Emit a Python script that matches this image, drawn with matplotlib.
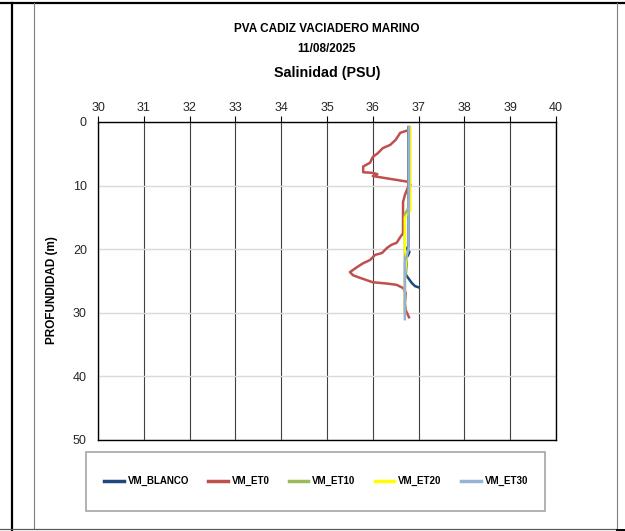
import matplotlib
matplotlib.use("Agg")
import matplotlib.pyplot as plt
from matplotlib.lines import Line2D
from matplotlib.patches import Rectangle

plt.rcParams['font.family'] = ['Liberation Sans', 'DejaVu Sans']

# salinity (PSU) vs depth (m)
blanco_depth = [0.8, 10.0, 19.5, 20.0, 20.4, 20.8, 21.3, 24.0, 24.6, 25.3, 25.8, 26.0]
blanco_sal = [36.78, 36.78, 36.78, 36.73, 36.80, 36.78, 36.74, 36.72, 36.78, 36.85, 36.92, 37.0]

et0_depth = [1.3, 1.7, 2.8, 3.6, 4.1, 4.9, 5.5, 6.4, 7.0, 7.9, 8.0, 8.2, 8.5, 9.4, 9.9,
             10.2, 11.5, 12.6, 17.5, 18.1, 19.0, 19.3, 19.8, 20.6, 20.9, 21.7, 22.2,
             22.8, 23.6, 24.1, 24.5, 25.2, 25.4, 25.6, 26.1, 26.9, 28.5, 29.6, 30.7]
et0_sal = [36.77, 36.6, 36.5, 36.38, 36.22, 36.11, 36.0, 35.94, 35.79, 35.79, 36.0, 36.1,
           36.0, 36.77, 36.83, 36.77, 36.7, 36.66, 36.66, 36.6, 36.52, 36.41, 36.31, 36.2,
           36.05, 35.94, 35.79, 35.66, 35.5, 35.57, 35.72, 36.0, 36.31, 36.52, 36.66,
           36.72, 36.7, 36.72, 36.79]

et10_depth = [0.8, 5.0, 10.0, 13.5, 14.5, 16.0, 20.0, 25.0, 30.0]
et10_sal = [36.79, 36.79, 36.79, 36.78, 36.70, 36.70, 36.70, 36.70, 36.70]

et20_depth = [0.8, 5.0, 10.0, 14.0, 15.0, 20.0, 20.8, 21.5, 22.5, 25.0, 30.0]
et20_sal = [36.82, 36.82, 36.82, 36.82, 36.70, 36.70, 36.72, 36.74, 36.72, 36.70, 36.70]

et30_depth = [0.8, 5.0, 10.0, 15.0, 20.0, 21.0, 22.0, 25.0, 28.0, 31.0]
et30_sal = [36.79, 36.79, 36.79, 36.78, 36.78, 36.74, 36.70, 36.70, 36.70, 36.70]

series = [
    ("VM_BLANCO", blanco_sal, blanco_depth, "#1F497D"),
    ("VM_ET0", et0_sal, et0_depth, "#C0504D"),
    ("VM_ET10", et10_sal, et10_depth, "#9BBB59"),
    ("VM_ET20", et20_sal, et20_depth, "#FFFF00"),
    ("VM_ET30", et30_sal, et30_depth, "#95B3D7"),
]

W, H = 625, 531


def fx(px):
    return px / W


def fy(py):
    return 1 - py / H


fig = plt.figure(figsize=(W / 100, H / 100), dpi=100)
ax = fig.add_axes([fx(98), fy(440), fx(556) - fx(98), fy(122) - fy(440)])

for name, sal, depth, col in series:
    ax.plot(sal, depth, color=col, lw=1.8, label=name, solid_joinstyle='round')

ax.set_xlim(30, 40)
ax.set_ylim(50, 0)
ax.set_xticks(range(30, 41))
ax.set_yticks(range(0, 51, 10))
ax.xaxis.tick_top()
ax.tick_params(axis='x', length=4, width=0.8, color='black', labelsize=9, pad=2,
               labelcolor='#262626')
ax.tick_params(axis='y', length=0, labelsize=9, pad=8, labelcolor='#262626')
ax.set_axisbelow(True)
ax.xaxis.grid(True, color='#404040', lw=0.8)
ax.yaxis.grid(True, color='#d9d9d9', lw=1.0)
for s in ax.spines.values():
    s.set_color('black')
    s.set_linewidth(1.0)

fig.text(fx(327), fy(29), "PVA CADIZ VACIADERO MARINO", ha='center', va='center',
         fontsize=8.5, fontweight='bold')
fig.text(fx(327), fy(49), "11/08/2025", ha='center', va='center',
         fontsize=8.5, fontweight='bold')
fig.text(fx(327), fy(73), "Salinidad (PSU)", ha='center', va='center',
         fontsize=10.3, fontweight='bold')
fig.text(fx(52), fy(290), "PROFUNDIDAD (m)", ha='center', va='center', rotation=90,
         fontsize=8.5, fontweight='bold')

# legend box
fig.add_artist(Rectangle((fx(86), fy(511)), fx(545) - fx(86), fy(452) - fy(511),
                         transform=fig.transFigure, fill=False, edgecolor='#a6a6a6', lw=1.2))
handles, labels = ax.get_legend_handles_labels()
leg = fig.legend(handles, labels, loc='center', bbox_to_anchor=(fx(316), fy(481)),
                 ncol=5, frameon=False, prop={'size': 7, 'weight': 'bold'},
                 handlelength=2.0, handletextpad=0.4, columnspacing=2.0)
for h in leg.get_lines():
    h.set_linewidth(2.5)

# outer frame lines
fig.add_artist(Line2D([0, 1], [fy(3), fy(3)], transform=fig.transFigure, color='black', lw=1.6))
fig.add_artist(Line2D([fx(12), fx(12)], [fy(3), 0], transform=fig.transFigure, color='black', lw=1.6))
fig.add_artist(Line2D([fx(34), fx(34)], [fy(3), fy(529)], transform=fig.transFigure, color='#7f7f7f', lw=0.8))
fig.add_artist(Line2D([fx(617), fx(617)], [fy(3), fy(529)], transform=fig.transFigure, color='#7f7f7f', lw=0.8))
fig.add_artist(Line2D([0, fx(617)], [fy(529), fy(529)], transform=fig.transFigure, color='#595959', lw=0.9))
fig.add_artist(Line2D([fx(617), 1], [fy(529.5), fy(529.5)], transform=fig.transFigure, color='black', lw=1.4))

fig.savefig("out.png", dpi=100)
